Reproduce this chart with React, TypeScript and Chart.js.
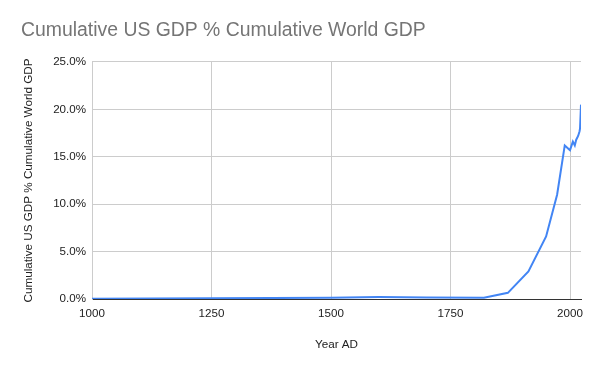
import React, { useEffect, useRef } from "react";
import { Chart, registerables } from "chart.js";

Chart.register(...registerables);

const titleText = "Cumulative US GDP % Cumulative World GDP";
const xAxisTitle = "Year AD";
const yAxisTitle = "Cumulative US GDP % Cumulative World GDP";

const years = [1000, 1500, 1600, 1700, 1820, 1870, 1913, 1950, 1973, 1989, 2000, 2006, 2010, 2013, 2017, 2020, 2021, 2023];
const usShare = [0.02, 0.13, 0.2, 0.17, 0.13, 0.65, 2.9, 6.6, 11.0, 16.2, 15.7, 16.6, 16.2, 16.8, 17.2, 17.7, 18.0, 20.5];

const xTicks = [1000, 1250, 1500, 1750, 2000];
const yTicks = [0, 5, 10, 15, 20, 25];

export default function App() {
  const ref = useRef<HTMLCanvasElement | null>(null);

  useEffect(() => {
    document.body.style.margin = "0";
    const canvas = ref.current;
    if (!canvas) return;
    const font = "Arial, 'Liberation Sans', sans-serif";
    const chart = new Chart(canvas, {
      type: "line",
      data: {
        datasets: [
          {
            label: yAxisTitle,
            data: years.map((y, i) => ({ x: y, y: usShare[i] })),
            borderColor: "#4285F4",
            backgroundColor: "#4285F4",
            borderWidth: 2,
            pointRadius: 0,
            tension: 0,
          },
        ],
      },
      options: {
        animation: false,
        responsive: false,
        layout: { padding: { left: 21, right: 19, top: 0, bottom: 0 } },
        plugins: {
          legend: { display: false },
          tooltip: { enabled: false },
          title: {
            display: true,
            text: titleText,
            align: "start",
            color: "#757575",
            font: { family: font, size: 19.4, weight: "normal", lineHeight: 1.2 },
            padding: { top: 18.9, bottom: 19.8 },
          },
        },
        scales: {
          x: {
            type: "linear",
            min: 1000,
            max: 2023,
            afterBuildTicks: (s: any) => {
              s.ticks = xTicks.map((v) => ({ value: v }));
            },
            afterFit: (s: any) => {
              s.height = 72;
            },
            ticks: {
              includeBounds: false,
              color: "#222",
              font: { family: font, size: 11.6 },
              padding: 7.5,
              maxRotation: 0,
              autoSkip: false,
              callback: (v: any) => String(v),
            },
            grid: { color: "#cccccc", drawTicks: false, lineWidth: 1 },
            border: { color: "#333333", width: 1 },
            title: {
              display: true,
              text: xAxisTitle,
              color: "#222",
              font: { family: font, size: 11.7 },
              padding: { top: 0, bottom: 19.6 },
            },
          },
          y: {
            min: 0,
            max: 25,
            afterBuildTicks: (s: any) => {
              s.ticks = yTicks.map((v) => ({ value: v }));
            },
            afterFit: (s: any) => {
              s.width = 71;
            },
            ticks: {
              color: "#222",
              font: { family: font, size: 11.6 },
              padding: 6,
              autoSkip: false,
              callback: (v: any) => Number(v).toFixed(1) + "%",
            },
            grid: { color: "#cccccc", drawTicks: false, lineWidth: 1 },
            border: { color: "#cccccc", width: 1 },
            title: {
              display: true,
              text: yAxisTitle,
              color: "#222",
              font: { family: font, size: 11.7 },
              padding: { top: 0.5, bottom: 0 },
            },
          },
        },
      },
    });
    return () => chart.destroy();
  }, []);

  return (
    <div style={{ position: "absolute", left: 0, top: 0, width: 600, height: 371, background: "#fff" }}>
      <canvas ref={ref} width={600} height={371} style={{ width: 600, height: 371, display: "block" }} />
    </div>
  );
}
